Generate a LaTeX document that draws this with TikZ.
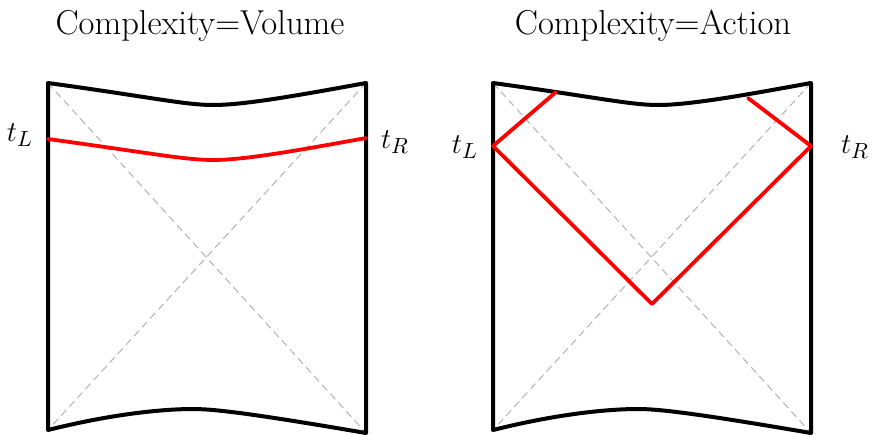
\documentclass[tikz,border=0pt]{standalone}
\begin{document}
\begin{tikzpicture}[x=0.5pt, y=-0.5pt, line cap=round, line join=round,
  wall/.style={line width=2pt},
  horizon/.style={black!30, line width=0.5pt, dash pattern=on 3.5pt off 2.5pt},
  slice/.style={red, line width=1.9pt},
  lbl/.style={font=\fontsize{15}{18}\selectfont},
  title/.style={font=\fontsize{17.3}{20}\selectfont}]
  \useasboundingbox (0,0) rectangle (872,434);
  % the two Penrose diagrams
  \foreach \p/\dx in {V/0,A/445}{
    \begin{scope}[shift={(\dx,0)}]
      \coordinate (\p TL) at (48,83);
      \coordinate (\p TR) at (366,83);
      \coordinate (\p BL) at (48,430);
      \coordinate (\p BR) at (366,433);
      \draw[horizon] (\p TL) -- (\p BR);
      \draw[horizon] (\p TR) -- (\p BL);
      \draw[wall] (\p BL) -- (\p TL)
        .. controls (150,97) and (185,105) .. (213,105)
        .. controls (245,105) and (300,95) .. (\p TR) -- (\p BR)
        .. controls (255,414) and (215,409) .. (193,409)
        .. controls (170,409) and (120,412) .. (\p BL) -- cycle;
    \end{scope}
  }
  % complexity = volume
  \coordinate (vl) at (48,139);
  \coordinate (vr) at (366,138);
  \draw[slice] (vl) .. controls (150,153) and (185,160) .. (213,160)
    .. controls (245,160) and (300,150) .. (vr);
  % complexity = action (WdW patch)
  \coordinate (al) at (493,146);
  \coordinate (ar) at (811,146);
  \coordinate (ab) at (652,304);
  \coordinate (alt) at (556,92);
  \coordinate (art) at (748,98);
  \draw[slice] (alt) -- (al) -- (ab) -- (ar) -- (art);
  % labels
  \node[title] (voltitle) at (200,26) {Complexity=Volume};
  \node[title] (acttitle) at (653,26) {Complexity=Action};
  \node[lbl] (vtl) at (20,135) {$t_L$};
  \node[lbl] (vtr) at (395,142) {$t_R$};
  \node[lbl] (atl) at (465,147) {$t_L$};
  \node[lbl] (atr) at (855,147) {$t_R$};
\end{tikzpicture}
\end{document}
